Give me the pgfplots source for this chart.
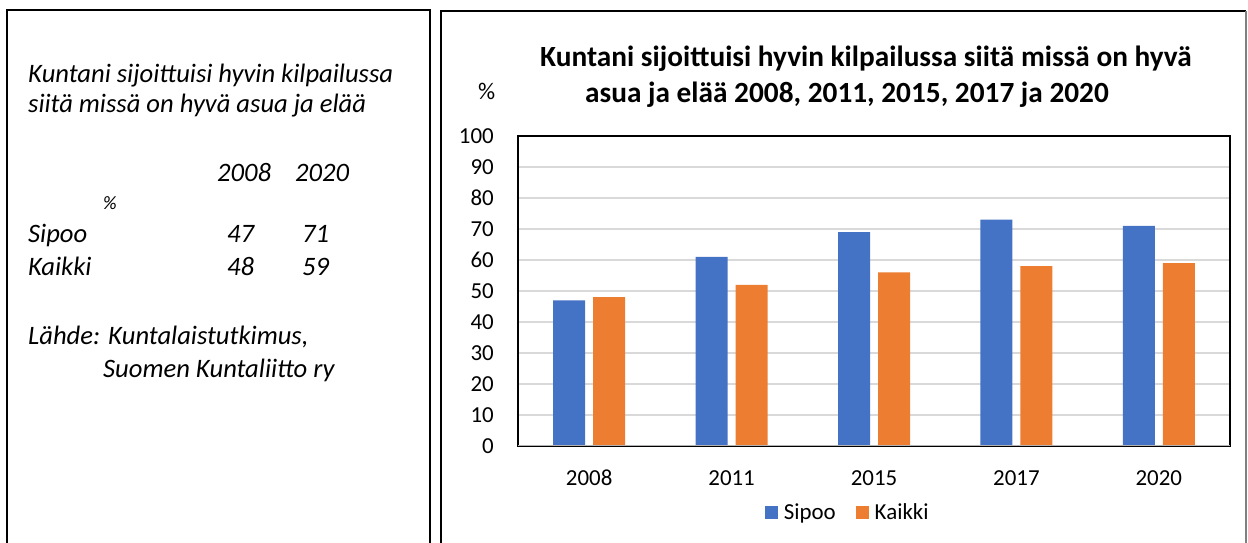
\documentclass[border=0pt]{standalone}
\usepackage{fontspec}
\setmainfont{Carlito}
\usepackage{pgfplots}
\pgfplotsset{compat=1.18}
\definecolor{sblue}{HTML}{4472C4}
\definecolor{korange}{HTML}{ED7D31}
\definecolor{gridgray}{HTML}{D9D9D9}

\begin{document}
\begin{tikzpicture}[x=1bp,y=1bp]
\path[use as bounding box] (0,0) rectangle (1248,543);
% panel frames
\draw[line width=2bp] (7,0) -- (7,533) -- (430,533) -- (430,0);
\draw[line width=2bp] (441,0) -- (441,532) -- (1246,532);
\draw[line width=2bp, gray] (1246,532) -- (1246,0);

% left panel text
\begin{scope}[every node/.style={anchor=base west, inner sep=0pt, font=\fontsize{26.7}{30}\selectfont\itshape}]
\node at (28,460) {Kuntani sijoittuisi hyvin kilpailussa};
\node at (28,430) {siitä missä on hyvä asua ja elää};
\node at (217,361) {2008};
\node at (295,361) {2020};
\node[font=\fontsize{19}{22}\selectfont\itshape] at (103,333) {\%};
\node at (28,300) {Sipoo};
\node at (227,300) {47};
\node at (302,300) {71};
\node at (28,267) {Kaikki};
\node at (227,267) {48};
\node at (302,267) {59};
\node at (28,198) {Lähde: Kuntalaistutkimus,};
\node at (103,165) {Suomen Kuntaliitto ry};
\end{scope}

% chart title
\begin{scope}[every node/.style={anchor=base west, inner sep=0pt, font=\fontsize{29.4}{34}\selectfont\bfseries}]
\node at (540,476) {Kuntani sijoittuisi hyvin kilpailussa siitä missä on hyvä};
\node at (585,440) {asua ja elää 2008, 2011, 2015, 2017 ja 2020};
\end{scope}
\node[anchor=base west, inner sep=0pt, font=\fontsize{24}{28}\selectfont] at (478,443) {\%};

\begin{axis}[
  at={(518bp,97bp)}, anchor=south west,
  width=712bp, height=310bp, scale only axis,
  xmin=-0.5, xmax=4.5, ymin=0, ymax=100,
  xtick={0,1,2,3,4},
  xticklabels={2008,2011,2015,2017,2020},
  ytick distance=10,
  ybar=8bp, bar width=32bp,
  ymajorgrids, grid style={gridgray, line width=1.2bp},
  major tick length=0pt,
  axis line style={line width=1.2bp},
  tick label style={font=\fontsize{23}{27}\selectfont},
  /pgf/number format/assume math mode=true,
  xticklabel style={anchor=base, yshift=-40bp},
  yticklabel style={anchor=east, inner sep=0pt, xshift=-24bp},
  legend style={at={(0.463,-0.2145)}, anchor=center, draw=none,
    font=\fontsize{23}{27}\selectfont, legend columns=2,
    /tikz/every odd column/.append style={column sep=4bp},
    /tikz/every even column/.append style={column sep=18bp}},
  legend image code/.code={\fill[#1] (0bp,-6.5bp) rectangle (13bp,6.5bp);},
]
\addplot[fill=sblue, draw=none] coordinates {(0,47) (1,61) (2,69) (3,73) (4,71)};
\addplot[fill=korange, draw=none] coordinates {(0,48) (1,52) (2,56) (3,58) (4,59)};
\draw[gray!60, line width=2bp] (rel axis cs:0,0) -- (rel axis cs:1,0);
\legend{Sipoo, Kaikki}
\end{axis}
\end{tikzpicture}
\end{document}
